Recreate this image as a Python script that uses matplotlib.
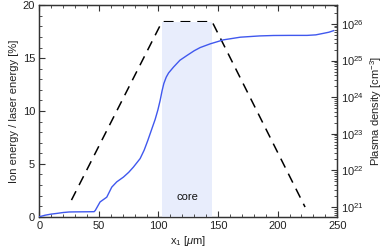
import numpy as np
import matplotlib
matplotlib.use("Agg")
import matplotlib.pyplot as plt
from matplotlib.ticker import MultipleLocator, LogLocator, NullFormatter

plt.rcParams['font.family'] = ['Liberation Sans', 'DejaVu Sans']
plt.rcParams['mathtext.fontset'] = 'custom'
plt.rcParams['mathtext.rm'] = 'Liberation Sans'
plt.rcParams['mathtext.it'] = 'Liberation Sans:italic'

# Ion energy fraction (%) vs x1 (um)
x_ion = [0, 5, 10, 15, 20, 25, 30, 40, 46, 47, 51, 56.6, 60.8, 65, 70.6, 75, 79, 84.6, 88, 91, 94.4, 97.2,
         99.5, 101.4, 103, 104.5, 106.5, 108.5, 112.6, 118, 123.9, 130, 135, 143.4, 154.6, 168.7, 185, 196.6,
         210, 224.7, 232, 238.7, 243, 247]
e_ion = [0.0, 0.15, 0.25, 0.32, 0.4, 0.45, 0.46, 0.47, 0.48, 0.6, 1.4, 1.85, 2.8, 3.3, 3.75, 4.2, 4.7, 5.5,
         6.3, 7.2, 8.3, 9.2, 10.1, 11.0, 11.9, 12.6, 13.2, 13.6, 14.15, 14.8, 15.25, 15.7, 16.0, 16.35,
         16.73, 16.98, 17.1, 17.14, 17.15, 17.15, 17.2, 17.35, 17.45, 17.6]

# Plasma density profile (cm^-3)
x_dens = [27, 103, 145, 223]
n_dens = [1.55e21, 1.15e26, 1.15e26, 1.0e21]

# Core region
core_x = [103, 145]
core_label = "core"

fig = plt.figure(figsize=(3.91, 2.5), dpi=100)
ax = fig.add_axes([0.1005, 0.133, 0.762, 0.846])
ax2 = ax.twinx()

ax.set_xlim(0, 250)
ax.set_ylim(0, 20)
ax2.set_yscale('log')
ax2.set_ylim(10**20.735, 10**26.51)

# core shading (on left axis up to plateau level)
ax.fill_between(core_x, 0, 18.45, color='#e8edfc', lw=0, zorder=0)
ax.text(np.mean(core_x), 1.9, core_label, ha='center', va='center', fontsize=8, color='#111111')

ax.plot(x_ion, e_ion, color='#4058ee', lw=1.0, zorder=3)
ax2.plot(x_dens, n_dens, color='black', lw=1.1, dashes=(6.5, 4.5))

ax.set_zorder(ax2.get_zorder() + 1)
ax.patch.set_visible(False)

spine_c = '#333333'
for a in (ax, ax2):
    for s in a.spines.values():
        s.set_color(spine_c)
        s.set_linewidth(0.9)

ax.xaxis.set_major_locator(MultipleLocator(50))
ax.xaxis.set_minor_locator(MultipleLocator(10))
ax.yaxis.set_major_locator(MultipleLocator(5))
ax.yaxis.set_minor_locator(MultipleLocator(1))
ax.tick_params(which='both', direction='in', top=True, right=False, colors=spine_c,
               labelcolor='#222222', labelsize=8, pad=3)
ax.tick_params(which='major', length=4, width=0.8)
ax.tick_params(which='minor', length=2, width=0.6)

ax2.yaxis.set_major_locator(LogLocator(base=10, numticks=10))
ax2.yaxis.set_minor_locator(LogLocator(base=10, subs=np.arange(2, 10), numticks=10))
ax2.yaxis.set_minor_formatter(NullFormatter())
ax2.tick_params(which='both', direction='in', colors=spine_c, labelcolor='#222222', labelsize=8, pad=3)
ax2.tick_params(which='major', length=4, width=0.8)
ax2.tick_params(which='minor', length=2, width=0.6)

ax.set_xlabel(r'x$_1$ [$\mu$m]', fontsize=8, color='#222222', labelpad=2)
ax.set_ylabel('Ion energy / laser energy [%]', fontsize=8, color='#222222', labelpad=3)
ax2.set_ylabel(r'Plasma density [cm$^{-3}$]', fontsize=8, color='#222222', labelpad=3)

fig.savefig('out.png', dpi=100)
